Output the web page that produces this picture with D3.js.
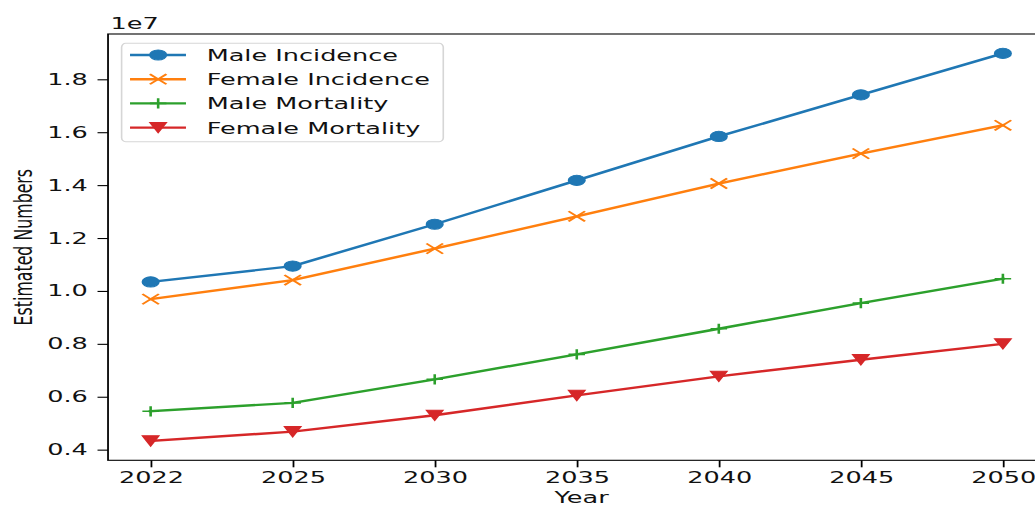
<!DOCTYPE html>
<html>
<head>
<meta charset="utf-8">
<script src="https://cdn.jsdelivr.net/npm/d3@7"></script>
<style>
  html, body { margin: 0; padding: 0; background: #fff; }
  svg { display: block; }
  text { font-family: "DejaVu Sans", sans-serif; fill: #111; }
</style>
</head>
<body>
<svg id="chart" width="1035" height="507"></svg>
<script>
// Projected cancer burden by year
const years = ["2022", "2025", "2030", "2035", "2040", "2045", "2050"];
const maleIncidence   = [10.34e6, 10.94e6, 12.52e6, 14.18e6, 15.84e6, 17.41e6, 18.98e6];
const femaleIncidence = [9.69e6, 10.41e6, 11.60e6, 12.82e6, 14.06e6, 15.19e6, 16.26e6];
const maleMortality   = [5.45e6, 5.77e6, 6.66e6, 7.60e6, 8.57e6, 9.54e6, 10.46e6];
const femaleMortality = [4.33e6, 4.68e6, 5.30e6, 6.05e6, 6.77e6, 7.40e6, 8.00e6];
const seriesNames = ["Male Incidence", "Female Incidence", "Male Mortality", "Female Mortality"];
const yTicks = [4e6, 6e6, 8e6, 10e6, 12e6, 14e6, 16e6, 18e6];

const colors = ["#1f77b4", "#ff7f0e", "#2ca02c", "#d62728"];
const markerKinds = ["circle", "x", "plus", "tri"];
const seriesValues = [maleIncidence, femaleIncidence, maleMortality, femaleMortality];

// The figure is laid out on a 640-wide canvas and stretched to the page width
const innerW = 640;
const SX = 1035 / innerW;
const FS = 15.8;

const svg = d3.select("#chart");
const g = svg.append("g").attr("transform", `scale(${SX},1)`);

const plot = { left: 66.8, right: 646.5, top: 34, bottom: 460.3 };

// Categorical x positions with 0.3-step margins on both ends
const x = d3.scaleLinear()
  .domain([-0.3, years.length - 1 + 0.3])
  .range([plot.left, plot.right]);

// 5% padding around the data range
const allVals = seriesValues.flat();
const lo = d3.min(allVals), hi = d3.max(allVals);
const pad = (hi - lo) * 0.05;
const y = d3.scaleLinear()
  .domain([lo - pad, hi + pad])
  .range([plot.bottom, plot.top]);

// Lines and markers
const line = d3.line().x((d, i) => x(i)).y(d => y(d));
const MS = 5.1;
function markerPath(kind) {
  const s = MS;
  if (kind === "x") return `M${-s},${-s}L${s},${s}M${-s},${s}L${s},${-s}`;
  if (kind === "plus") return `M${-s},0L${s},0M0,${-s}L0,${s}`;
  if (kind === "tri") return `M${-s},${-s}L${s},${-s}L0,${s}Z`;
  return null;
}
function drawMarker(sel, kind, color) {
  if (kind === "circle") {
    sel.append("circle").attr("r", MS).attr("fill", color)
      .attr("stroke", color).attr("stroke-width", 1);
  } else if (kind === "tri") {
    sel.append("path").attr("d", markerPath(kind)).attr("fill", color)
      .attr("stroke", color).attr("stroke-width", 1).attr("stroke-linejoin", "miter");
  } else {
    sel.append("path").attr("d", markerPath(kind)).attr("fill", "none")
      .attr("stroke", color).attr("stroke-width", 1.6);
  }
}

const series = g.append("g");
seriesValues.forEach((vals, k) => {
  series.append("path")
    .datum(vals)
    .attr("d", line)
    .attr("fill", "none")
    .attr("stroke", colors[k])
    .attr("stroke-width", 2.4)
    .attr("stroke-linejoin", "round")
    .attr("stroke-linecap", "square");
  vals.forEach((v, i) => {
    const m = series.append("g").attr("transform", `translate(${x(i)},${y(v)})`);
    drawMarker(m, markerKinds[k], colors[k]);
  });
});

// Axes
const xAxis = d3.axisBottom(x)
  .tickValues(d3.range(years.length))
  .tickFormat(i => years[i])
  .tickSize(7)
  .tickPadding(4.5);
const yAxis = d3.axisLeft(y)
  .tickValues(yTicks)
  .tickFormat(v => (v / 1e7).toFixed(1))
  .tickSize(6.5)
  .tickPadding(6);

const gx = g.append("g").attr("transform", `translate(0,${plot.bottom})`).call(xAxis);
const gy = g.append("g").attr("transform", `translate(${plot.left},0)`).call(yAxis);
[gx, gy].forEach(a => {
  a.select(".domain").remove();
  a.selectAll(".tick line").attr("stroke", "#000").attr("stroke-width", 1.1);
  a.selectAll(".tick text").attr("font-size", FS).attr("font-family", "DejaVu Sans").attr("fill", "#111");
});

// Frame
g.append("rect")
  .attr("x", plot.left).attr("y", plot.top)
  .attr("width", plot.right - plot.left).attr("height", plot.bottom - plot.top)
  .attr("fill", "none").attr("stroke", "#000").attr("stroke-width", 1.1);

// Offset multiplier
g.append("text").attr("x", plot.left + 1.6).attr("y", 29.5)
  .attr("font-size", FS).text("1e7");

// Axis titles
g.append("text")
  .attr("x", x((years.length - 1) / 2) + 3)
  .attr("y", 503)
  .attr("text-anchor", "middle")
  .attr("font-size", FS)
  .text("Year");
g.append("text")
  .attr("transform", `translate(19.5,${(plot.top + plot.bottom) / 2}) rotate(-90)`)
  .attr("text-anchor", "middle")
  .attr("font-size", FS)
  .text("Estimated Numbers");

// Legend
const legend = g.append("g");
legend.append("rect")
  .attr("x", 75.2).attr("y", 43.3)
  .attr("width", 198.9).attr("height", 98.4)
  .attr("rx", 2.5).attr("ry", 4)
  .attr("fill", "#fff").attr("fill-opacity", 0.8)
  .attr("stroke", "#d6d6d6").attr("stroke-width", 1);
seriesNames.forEach((name, k) => {
  const ry = 55 + k * 24.2;
  const row = legend.append("g").attr("transform", `translate(0,${ry})`);
  row.append("line").attr("x1", 80.4).attr("x2", 115).attr("y1", 0).attr("y2", 0)
    .attr("stroke", colors[k]).attr("stroke-width", 2.4);
  const m = row.append("g").attr("transform", "translate(97.8,0)");
  drawMarker(m, markerKinds[k], colors[k]);
  row.append("text").attr("x", 127.8).attr("y", 6)
    .attr("font-size", FS).text(name);
});
</script>
</body>
</html>
